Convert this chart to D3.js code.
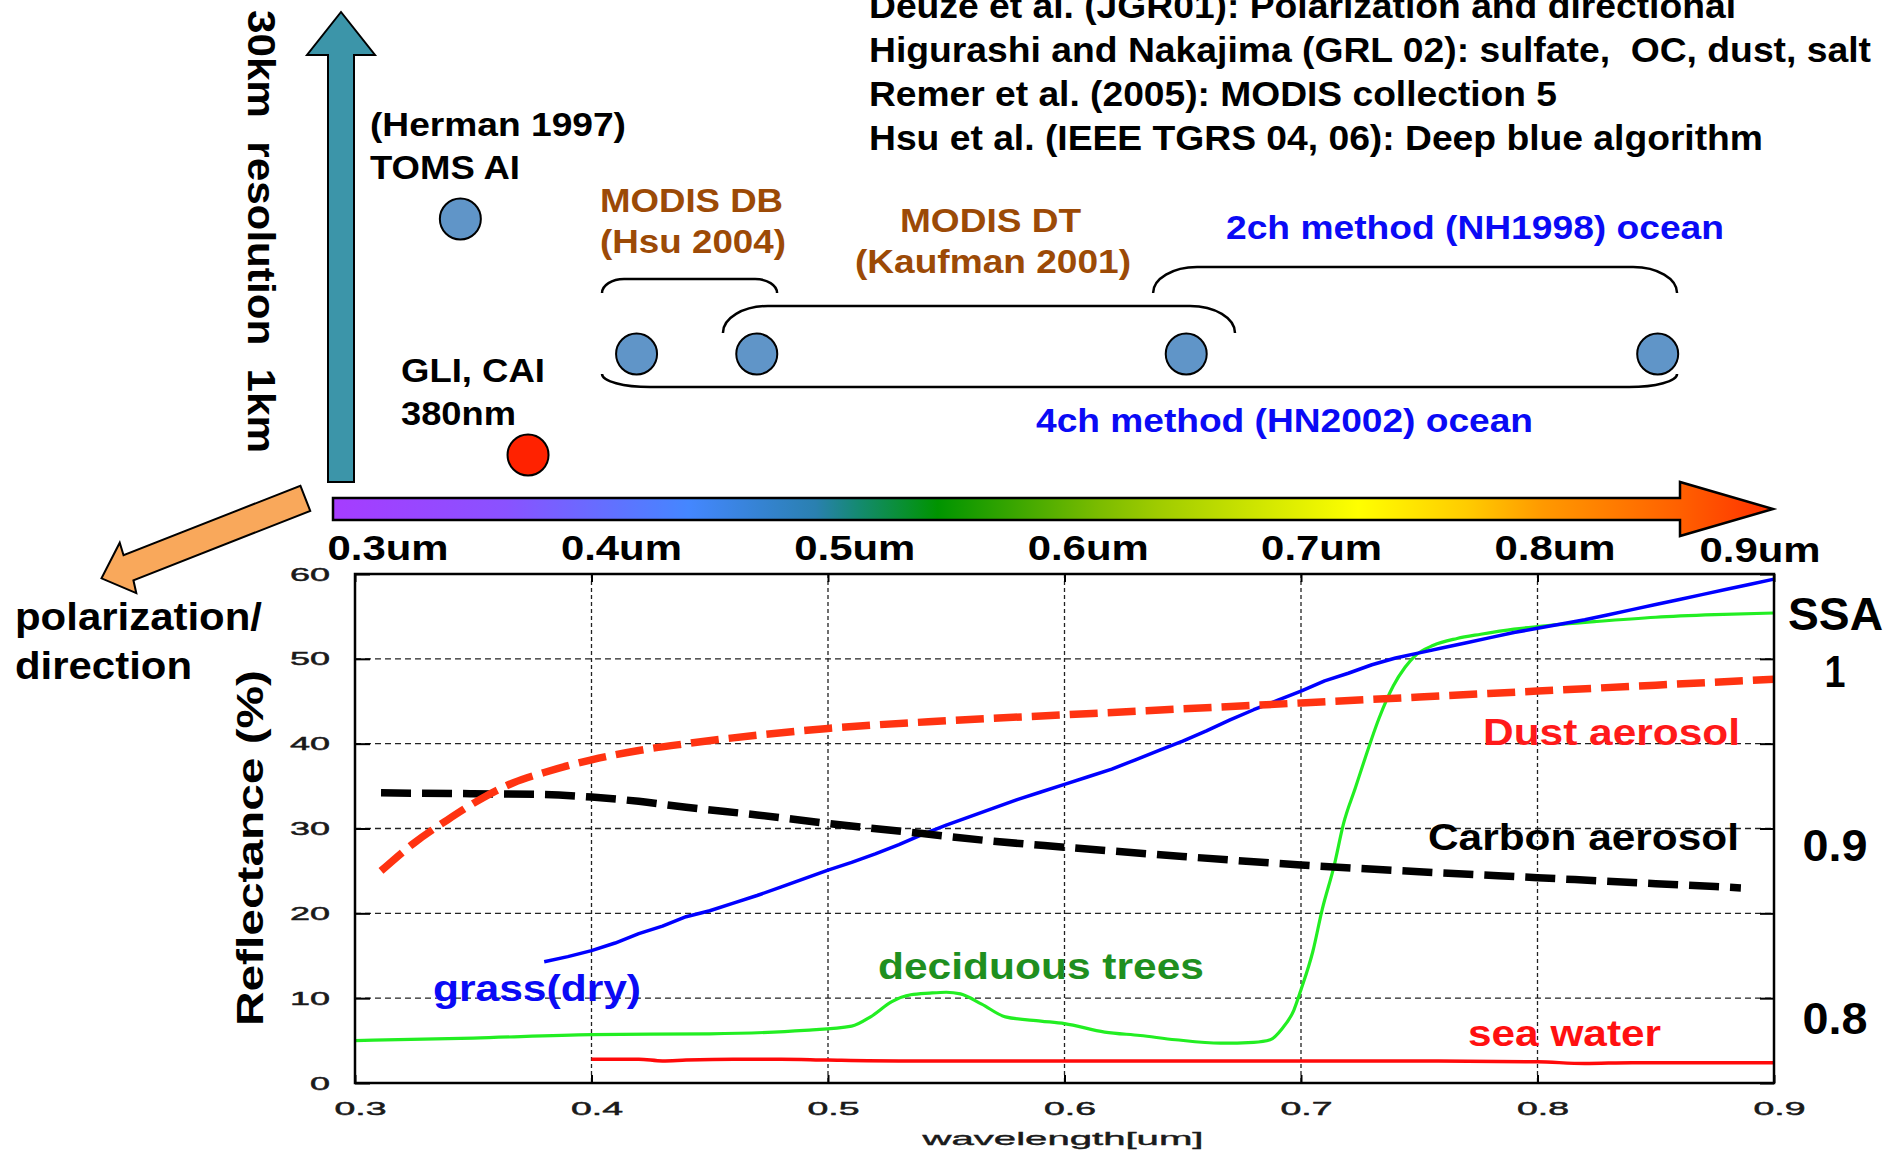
<!DOCTYPE html>
<html>
<head>
<meta charset="utf-8">
<script src="https://cdn.jsdelivr.net/npm/d3@7"></script>
<style>
  body { margin: 0; background: #fff; }
  svg { display: block; }
  text { font-family: "Liberation Sans", Arial, Helvetica, sans-serif; white-space: pre; }
</style>
</head>
<body>
<svg id="chart" width="1901" height="1151"></svg>
<script>
// ---------- data ----------
const wavelengthTicks = [0.3, 0.4, 0.5, 0.6, 0.7, 0.8, 0.9];
const reflectanceTicks = [0, 10, 20, 30, 40, 50, 60];
const spectrumTicks = [0.3, 0.4, 0.5, 0.6, 0.7, 0.8, 0.9];
const ssaTicks = [1, 0.9, 0.8];

// reflectance spectra: [wavelength (um), reflectance (%)]
const dustAerosol = [
  [0.311, 25.0], [0.325, 28.3], [0.339, 31.0], [0.354, 33.6], [0.367, 35.4],
  [0.38, 36.6], [0.40, 38.1], [0.42, 39.2], [0.44, 40.0], [0.47, 41.0],
  [0.50, 41.8], [0.55, 42.7], [0.60, 43.4], [0.65, 44.1], [0.70, 44.8],
  [0.75, 45.5], [0.80, 46.2], [0.85, 46.9], [0.90, 47.6]
];
const carbonAerosol = [
  [0.311, 34.2], [0.35, 34.1], [0.38, 34.0], [0.40, 33.7], [0.42, 33.2],
  [0.44, 32.5], [0.47, 31.6], [0.50, 30.6], [0.54, 29.4], [0.57, 28.5],
  [0.60, 27.8], [0.65, 26.7], [0.70, 25.7], [0.75, 24.9], [0.80, 24.2],
  [0.85, 23.5], [0.886, 23.0]
];
const grassDry = [
  [0.38, 14.3], [0.39, 14.9], [0.40, 15.6], [0.41, 16.5], [0.42, 17.6], [0.43, 18.5],
  [0.44, 19.6], [0.45, 20.3], [0.46, 21.2], [0.47, 22.1], [0.48, 23.1], [0.49, 24.1],
  [0.50, 25.1], [0.51, 26.0], [0.52, 27.0], [0.53, 28.1], [0.54, 29.3], [0.55, 30.4],
  [0.56, 31.4], [0.57, 32.4], [0.58, 33.4], [0.59, 34.3], [0.60, 35.2], [0.61, 36.1],
  [0.62, 37.0], [0.63, 38.1], [0.64, 39.2], [0.65, 40.3], [0.66, 41.5], [0.67, 42.8],
  [0.68, 44.0], [0.69, 45.1], [0.70, 46.2], [0.71, 47.4], [0.72, 48.3], [0.73, 49.3],
  [0.74, 50.1], [0.75, 50.7], [0.76, 51.3], [0.77, 51.9], [0.78, 52.5], [0.79, 53.1],
  [0.80, 53.6], [0.81, 54.1], [0.82, 54.6], [0.83, 55.2], [0.84, 55.8], [0.85, 56.4],
  [0.86, 57.0], [0.87, 57.6], [0.88, 58.2], [0.89, 58.8], [0.90, 59.4]
];
const deciduousTrees = [
  [0.30, 5.0], [0.35, 5.3], [0.40, 5.7], [0.45, 5.8], [0.49, 6.2], [0.51, 6.7],
  [0.518, 7.8], [0.527, 9.6], [0.535, 10.4], [0.543, 10.6], [0.550, 10.7], [0.556, 10.5],
  [0.565, 9.3], [0.575, 7.8], [0.59, 7.3], [0.60, 7.0], [0.617, 6.0], [0.632, 5.6],
  [0.647, 5.1], [0.666, 4.7], [0.680, 4.8], [0.687, 5.1], [0.692, 6.4], [0.697, 8.6],
  [0.700, 11.0], [0.705, 15.5], [0.709, 20.5], [0.714, 25.6], [0.718, 30.6],
  [0.723, 34.8], [0.727, 38.2], [0.733, 43.0], [0.739, 46.8], [0.744, 49.0],
  [0.748, 50.3], [0.756, 51.6], [0.766, 52.4], [0.776, 52.9], [0.79, 53.5],
  [0.80, 53.8], [0.825, 54.4], [0.85, 54.9], [0.875, 55.2], [0.90, 55.4]
];
const seaWater = [
  [0.40, 2.8], [0.41, 2.8], [0.42, 2.8], [0.43, 2.6], [0.44, 2.7], [0.46, 2.8],
  [0.48, 2.8], [0.50, 2.7], [0.53, 2.6], [0.55, 2.6], [0.60, 2.6], [0.65, 2.6],
  [0.70, 2.6], [0.75, 2.6], [0.80, 2.5], [0.82, 2.3], [0.84, 2.4], [0.87, 2.4], [0.90, 2.4]
];

// sensor channels on the spectrum diagram
const sensorNames = ["TOMS AI", "GLI/CAI 380nm", "MODIS 412", "MODIS 470", "MODIS 660", "MODIS 865"];
const sensorWavelengths = [0.331, 0.360, 0.4065, 0.458, 0.642, 0.844];
const sensorResolution = ["coarse", "fine", "mid", "mid", "mid", "mid"];

// retrieval methods and the channel range each one spans
const methodNames = ["MODIS DB", "MODIS DT", "2ch method", "4ch method"];
const methodRanges = [[0.3917, 0.4667], [0.4435, 0.6629], [0.6278, 0.8523], [0.3917, 0.8523]];

const references = [
  "Deuze et al. (JGR01): Polarization and directional",
  "Higurashi and Nakajima (GRL 02): sulfate,  OC, dust, salt",
  "Remer et al. (2005): MODIS collection 5",
  "Hsu et al. (IEEE TGRS 04, 06): Deep blue algorithm"
];

// ---------- helpers ----------
const svg = d3.select("#chart");
svg.append("rect").attr("width", 1901).attr("height", 1151).attr("fill", "#fff");

function addText(parent, o) {
  const t = parent.append("text")
    .attr("x", o.x).attr("y", o.y)
    .attr("font-size", o.size)
    .attr("font-weight", o.weight == null ? 700 : o.weight)
    .attr("fill", o.color || "#000")
    .attr("text-anchor", o.anchor || "start")
    .text(o.text);
  if (o.width) t.attr("textLength", o.width).attr("lengthAdjust", "spacingAndGlyphs");
  if (o.rotate) t.attr("transform", `rotate(${o.rotate},${o.x},${o.y})`);
  return t;
}

// ---------- upper diagram ----------
const diagram = svg.append("g");

// reference list
const refWidths = [867, 1002, 688, 894];
references.forEach((r, i) => addText(diagram, { text: r, x: 869, y: 18 + i * 44, size: 35, width: refWidths[i] }));

// resolution arrow (vertical)
const vArrow = { cx: 341, half: 13, headHalf: 34, tip: 12, headBase: 55, bottom: 482 };
diagram.append("path")
  .attr("d", `M${vArrow.cx - vArrow.half},${vArrow.bottom} L${vArrow.cx - vArrow.half},${vArrow.headBase}
    L${vArrow.cx - vArrow.headHalf},${vArrow.headBase} L${vArrow.cx},${vArrow.tip}
    L${vArrow.cx + vArrow.headHalf},${vArrow.headBase} L${vArrow.cx + vArrow.half},${vArrow.headBase}
    L${vArrow.cx + vArrow.half},${vArrow.bottom} Z`)
  .attr("fill", "#3c95a9").attr("stroke", "#000").attr("stroke-width", 2);

addText(diagram, { text: "30km  resolution  1km", x: 248, y: 10, size: 39, width: 443, rotate: 90 });

// polarization / direction arrow
(function () {
  const T = [305.3, 498.3], u = [-0.9306, 0.3656], n = [0.3656, 0.9306];
  const L = 219, head = 29, sh = 13.5, hh = 26.5;
  const p = (a, b) => [T[0] + a * u[0] + b * n[0], T[1] + a * u[1] + b * n[1]];
  const pts = [p(0, -sh), p(0, sh), p(L - head, sh), p(L - head + 2, hh), p(L, 0), p(L - head - 1, -hh), p(L - head, -sh)];
  diagram.append("path").attr("d", "M" + pts.map(q => q.join(",")).join("L") + "Z")
    .attr("fill", "#f9a85b").attr("stroke", "#000").attr("stroke-width", 2);
})();
addText(diagram, { text: "polarization/", x: 15, y: 630, size: 38, width: 247 });
addText(diagram, { text: "direction", x: 15, y: 679, size: 38, width: 177 });

// spectrum bar with arrow head
const bar = { x0: 333, y0: 498, y1: 520, headX: 1680, tipX: 1773, headTop: 482, headBottom: 536 };
const grad = svg.append("defs").append("linearGradient").attr("id", "spectrum")
  .attr("gradientUnits", "userSpaceOnUse")
  .attr("x1", bar.x0).attr("x2", bar.tipX).attr("y1", 0).attr("y2", 0);
[[0, "#a63cff"], [0.12, "#8a52ff"], [0.247, "#4487ff"], [0.335, "#2a80b0"], [0.365, "#148a70"],
 [0.42, "#009400"], [0.473, "#3aa600"], [0.533, "#7cbc00"], [0.574, "#a0cc00"], [0.712, "#ffff00"],
 [0.787, "#ffcc00"], [0.84, "#ff9900"], [0.935, "#ff6000"], [1, "#ff3000"]]
  .forEach(([o, c]) => grad.append("stop").attr("offset", o).attr("stop-color", c));
const barMid = (bar.y0 + bar.y1) / 2;
diagram.append("path")
  .attr("d", `M${bar.x0},${bar.y0} L${bar.headX},${bar.y0} L${bar.headX},${bar.headTop} L${bar.tipX},${barMid}
    L${bar.headX},${bar.headBottom} L${bar.headX},${bar.y1} L${bar.x0},${bar.y1} Z`)
  .attr("fill", "url(#spectrum)").attr("stroke", "#000").attr("stroke-width", 2.5);

// wavelength positions on the spectrum bar
const xBar = d3.scaleLinear().domain([0.3, 0.8]).range([388, 1555]);
diagram.selectAll("text.specTick").data(spectrumTicks).join("text")
  .attr("class", "specTick")
  .attr("x", d => Math.min(xBar(d), bar.tipX - 13))
  .attr("y", d => xBar(d) > bar.tipX - 13 ? 562 : 560)
  .attr("text-anchor", "middle").attr("font-size", 35).attr("font-weight", 700)
  .attr("textLength", 121).attr("lengthAdjust", "spacingAndGlyphs")
  .text(d => d.toFixed(1) + "um");

// method brackets
const bracketLayout = [
  { line: 279, ends: 293, rx: 22, ry: 14 },
  { line: 306, ends: 333, rx: 45, ry: 27 },
  { line: 267, ends: 293, rx: 44, ry: 26 },
  { line: 387, ends: 374, rx: 48, ry: 13 }
];
methodRanges.forEach((r, i) => {
  const b = bracketLayout[i];
  const x0 = xBar(r[0]), x1 = xBar(r[1]);
  const sweep = b.line < b.ends ? 1 : 0;
  diagram.append("path")
    .attr("d", `M${x0},${b.ends} A${b.rx},${b.ry} 0 0 ${sweep} ${x0 + b.rx},${b.line}
      L${x1 - b.rx},${b.line} A${b.rx},${b.ry} 0 0 ${sweep} ${x1},${b.ends}`)
    .attr("fill", "none").attr("stroke", "#000").attr("stroke-width", 2.5);
});

// sensor channels
const rowY = { coarse: 219, mid: 354, fine: 455 };
diagram.selectAll("circle.sensor").data(sensorNames).join("circle")
  .attr("class", "sensor")
  .attr("cx", (d, i) => xBar(sensorWavelengths[i]))
  .attr("cy", (d, i) => rowY[sensorResolution[i]])
  .attr("r", 20.5)
  .attr("fill", d => d.startsWith("GLI") ? "#ff2200" : "#6095c8")
  .attr("stroke", "#000").attr("stroke-width", 2);

const brown = "#9c4a06", methodBlue = "#0a0af5";
addText(diagram, { text: "(Herman 1997)", x: 370, y: 136, size: 33, width: 256 });
addText(diagram, { text: "TOMS AI", x: 370, y: 179, size: 33, width: 150 });
addText(diagram, { text: "GLI, CAI", x: 401, y: 382, size: 33, width: 144 });
addText(diagram, { text: "380nm", x: 401, y: 425, size: 33, width: 115 });
addText(diagram, { text: "MODIS DB", x: 600, y: 212, size: 33, width: 183, color: brown });
addText(diagram, { text: "(Hsu 2004)", x: 600, y: 253, size: 33, width: 186, color: brown });
addText(diagram, { text: "MODIS DT", x: 900, y: 232, size: 33, width: 181, color: brown });
addText(diagram, { text: "(Kaufman 2001)", x: 855, y: 273, size: 33, width: 276, color: brown });
addText(diagram, { text: "2ch method (NH1998) ocean", x: 1226, y: 239, size: 33, width: 498, color: methodBlue });
addText(diagram, { text: "4ch method (HN2002) ocean", x: 1036, y: 432, size: 33, width: 497, color: methodBlue });

// ---------- reflectance chart ----------
const plot = { left: 355, right: 1774, top: 574, bottom: 1083 };
const x = d3.scaleLinear().domain([0.3, 0.9]).range([plot.left, plot.right]);
const y = d3.scaleLinear().domain([0, 60]).range([plot.bottom, plot.top]);
const g = svg.append("g");

// dashed grid
g.selectAll("line.hgrid").data(reflectanceTicks.filter(d => d > 0 && d < 60)).join("line")
  .attr("class", "hgrid")
  .attr("x1", plot.left).attr("x2", plot.right).attr("y1", d => y(d)).attr("y2", d => y(d))
  .attr("stroke", "#222").attr("stroke-width", 1.3).attr("stroke-dasharray", "6 4");
g.selectAll("line.vgrid").data(wavelengthTicks.filter(d => d > 0.3 && d < 0.9)).join("line")
  .attr("class", "vgrid")
  .attr("x1", d => x(d)).attr("x2", d => x(d)).attr("y1", plot.top).attr("y2", plot.bottom)
  .attr("stroke", "#222").attr("stroke-width", 1.3).attr("stroke-dasharray", "4 3");

// axes with inward ticks
const axisFont = sel => sel.selectAll("text").attr("font-size", 19).attr("fill", "#1a1a1a")
  .attr("stroke", "#1a1a1a").attr("stroke-width", 0.5)
  .attr("font-family", "\"Liberation Sans\", Arial, sans-serif");
const xAxis = g.append("g").attr("transform", `translate(0,${plot.bottom})`)
  .call(d3.axisBottom(x).tickValues(wavelengthTicks).tickFormat(d3.format(".1f")).tickSize(-8).tickPadding(19));
xAxis.call(axisFont);
xAxis.selectAll("text").attr("dx", 5).attr("textLength", 52).attr("lengthAdjust", "spacingAndGlyphs");
const yAxis = g.append("g").attr("transform", `translate(${plot.left},0)`)
  .call(d3.axisLeft(y).tickValues(reflectanceTicks).tickSize(-15).tickPadding(25));
yAxis.call(axisFont);
yAxis.selectAll("text").attr("textLength", d => String(d).length * 20).attr("lengthAdjust", "spacingAndGlyphs");
g.append("g").attr("transform", `translate(0,${plot.top})`)
  .call(d3.axisTop(x).tickValues(wavelengthTicks).tickFormat("").tickSize(-8));
g.append("g").attr("transform", `translate(${plot.right},0)`)
  .call(d3.axisRight(y).tickValues(reflectanceTicks).tickFormat("").tickSize(-14));
g.selectAll(".domain").remove();
g.selectAll(".tick line").attr("stroke", "#000").attr("stroke-width", 2);

// spectra
const series = [
  { data: seaWater, color: "#ff0a0a", width: 3.5, curve: d3.curveMonotoneX },
  { data: deciduousTrees, color: "#22ee22", width: 3.2, curve: d3.curveMonotoneX },
  { data: grassDry, color: "#0000ff", width: 3.5, curve: d3.curveLinear },
  { data: carbonAerosol, color: "#000", width: 7.5, dash: "30 11", curve: d3.curveMonotoneX },
  { data: dustAerosol, color: "#ff3311", width: 7.5, dash: "28 10", curve: d3.curveMonotoneX }
];
series.forEach(s => {
  const line = d3.line().x(d => x(d[0])).y(d => y(d[1])).curve(s.curve);
  const path = g.append("path").datum(s.data)
    .attr("fill", "none").attr("stroke", s.color).attr("stroke-width", s.width)
    .attr("stroke-linejoin", "round")
    .attr("d", line);
  if (s.dash) path.attr("stroke-dasharray", s.dash);
});

// frame
g.append("rect").attr("x", plot.left).attr("y", plot.top)
  .attr("width", plot.right - plot.left).attr("height", plot.bottom - plot.top)
  .attr("fill", "none").attr("stroke", "#000").attr("stroke-width", 2.5);

// axis titles
addText(g, { text: "wavelength[um]", x: 1063, y: 1145, size: 19, weight: 400, width: 281, anchor: "middle", color: "#1a1a1a" })
  .attr("stroke", "#1a1a1a").attr("stroke-width", 0.4);
addText(g, { text: "Reflectance (%)", x: 263, y: 848, size: 37, width: 356, anchor: "middle", rotate: -90 });

// single-scattering albedo scale on the right
const ssa = d3.scaleLinear().domain([0.8, 1]).range([1034, 687]);
addText(g, { text: "SSA", x: 1788, y: 630, size: 46, width: 95 });
g.selectAll("text.ssa").data(ssaTicks).join("text")
  .attr("class", "ssa")
  .attr("x", 1835).attr("y", d => ssa(d))
  .attr("text-anchor", "middle").attr("font-size", 44).attr("font-weight", 700)
  .attr("textLength", d => d === 1 ? 21 : 65).attr("lengthAdjust", "spacingAndGlyphs")
  .text(d => d === 1 ? "1" : d.toFixed(1));

// series labels
addText(g, { text: "Dust aerosol", x: 1483, y: 745, size: 37, width: 257, color: "#ff1a1a" });
addText(g, { text: "Carbon aerosol", x: 1428, y: 850, size: 37, width: 311 });
addText(g, { text: "deciduous trees", x: 878, y: 979, size: 37, width: 326, color: "#1f8f1f" });
addText(g, { text: "sea water", x: 1468, y: 1046, size: 37, width: 193, color: "#ff1010" });
addText(g, { text: "grass(dry)", x: 433, y: 1001, size: 37, width: 208, color: "#0a0af5" });
</script>
</body>
</html>
